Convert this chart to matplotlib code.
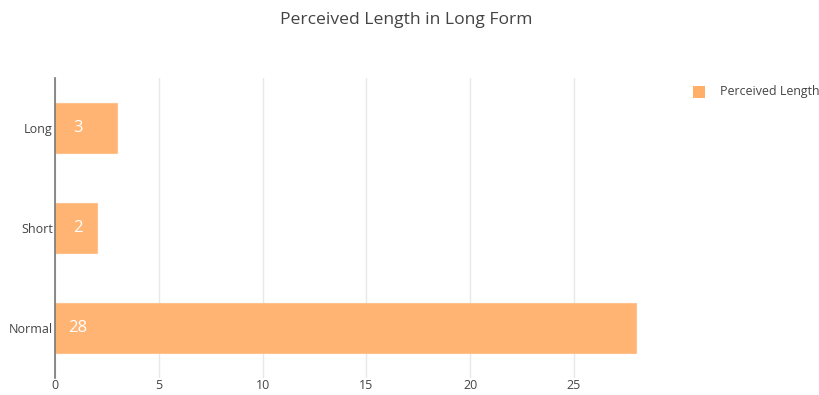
import matplotlib.pyplot as plt
from matplotlib.patches import Rectangle

plt.rcParams['font.family'] = ['Open Sans', 'DejaVu Sans']

categories = ["Normal", "Short", "Long"]
lengths = [28, 2, 3]
series_name = "Perceived Length"
title = "Perceived Length in Long Form"
x_ticks = [0, 5, 10, 15, 20, 25]

bar_color = '#FFAF68'
text_color = '#444444'

fig = plt.figure(figsize=(8.2, 3.95), dpi=100)
ax = fig.add_axes([55 / 820, 17 / 395, (666.6 - 55) / 820, 300 / 395])

y = list(range(len(categories)))
ax.barh(y, lengths, height=0.5, color=bar_color, edgecolor='#FFC08A',
        linewidth=0.8, zorder=2, alpha=0.93)

for yi, v in zip(y, lengths):
    ax.annotate(str(v), xy=(0, yi), xytext=(16.6, 0), textcoords='offset points',
                ha='center', va='center', color='white', fontsize=12, zorder=4)

ax.set_xlim(0, max(lengths) * 1.0525)
ax.set_ylim(-0.5, len(categories) - 0.5)
ax.set_xticks(x_ticks)
ax.set_yticks(y)
ax.set_yticklabels(categories)
ax.tick_params(axis='both', length=0, labelsize=9, colors=text_color)
ax.tick_params(axis='x', pad=0.5)
ax.tick_params(axis='y', pad=1.5)

ax.grid(axis='x', color='#e8e8e8', linewidth=1, zorder=1)
ax.set_axisbelow(True)
for s in ['top', 'right', 'bottom']:
    ax.spines[s].set_visible(False)
ax.spines['left'].set_color('#777777')
ax.spines['left'].set_linewidth(1.2)
ax.spines['left'].set_zorder(5)

fig.text(406 / 820, 1 - 20 / 395, title, ha='center', va='center',
         fontsize=12.6, color=text_color)

# legend entry
fig.patches.append(Rectangle((693 / 820, 1 - 98 / 395), 12 / 820, 12 / 395,
                             transform=fig.transFigure, facecolor=bar_color,
                             edgecolor='none'))
fig.text(720 / 820, 1 - 92 / 395, series_name, ha='left', va='center',
         fontsize=8.9, color=text_color)

fig.savefig('out.png', dpi=100)
